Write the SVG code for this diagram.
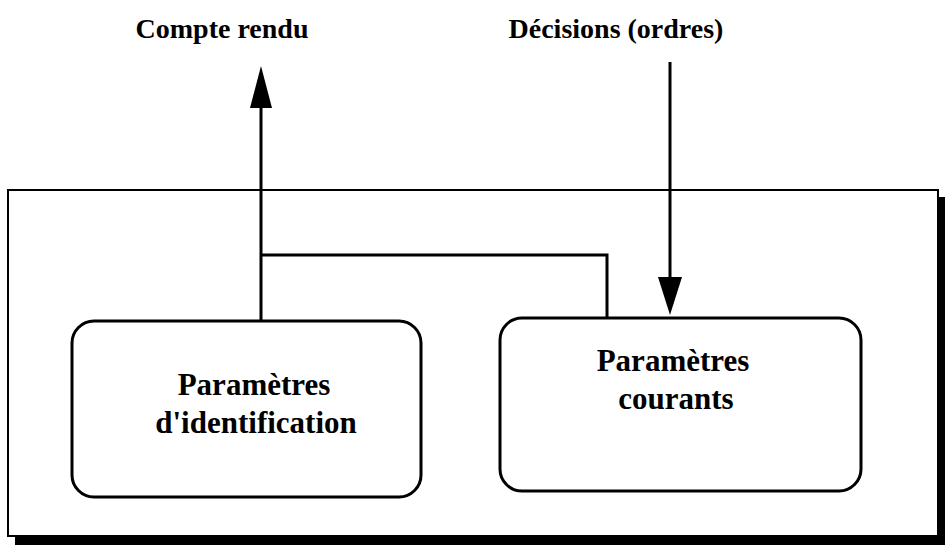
<svg xmlns="http://www.w3.org/2000/svg" width="945" height="550" viewBox="0 0 945 550">
<style>
text{font-family:"Liberation Serif","Times New Roman",serif;font-weight:bold;font-size:28px;fill:#000;text-anchor:middle}
.lbl{font-size:31px}
.ln{fill:none;stroke:#000;stroke-width:3}
.node{fill:#fff;stroke:#000;stroke-width:3}
.head{fill:#000}
</style>
<rect x="15" y="197" width="930" height="348" fill="#000"/>
<rect id="cadre" x="8" y="190" width="930" height="346" fill="#fff" stroke="#000" stroke-width="2"/>
<g id="n1"><rect class="node" x="72" y="321" width="349" height="176" rx="22"/>
<text class="lbl" x="254" y="395">Paramètres</text><text class="lbl" x="256" y="433">d'identification</text></g>
<g id="n2"><rect class="node" x="500" y="318" width="361" height="173" rx="22"/>
<text class="lbl" x="673" y="371">Paramètres</text><text class="lbl" x="676" y="409">courants</text></g>
<g id="connectors">
<line class="ln" x1="261" y1="320" x2="261" y2="100"/>
<path class="head" d="M261,66 L272,108 L250,108 Z"/>
<polyline class="ln" points="261,255 607,255 607,318"/>
<line class="ln" x1="670" y1="62" x2="670" y2="280"/>
<path class="head" d="M670,315 L658,277 L682,277 Z"/>
</g>
<text x="222" y="38">Compte rendu</text>
<text x="616" y="38">Décisions (ordres)</text>
</svg>
